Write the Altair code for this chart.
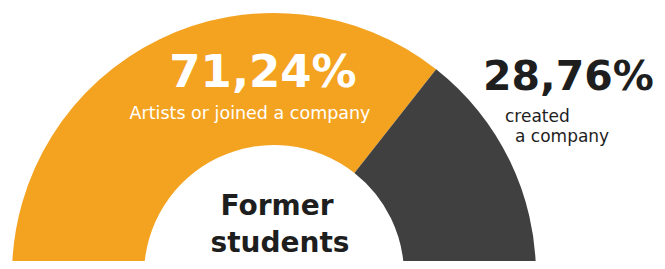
import math
import altair as alt
import pandas as pd

# ---- data ----
categories = ["Artists or joined a company", "created a company"]
values = [71.24, 28.76]
colors = ["#F4A321", "#404040"]
pct_labels = ["71,24%", "28,76%"]
center_lines = ["Former", "students"]
sub_left = ["Artists or joined a company"]
sub_right = ["created", "a company"]

arc_df = pd.DataFrame({"category": categories, "value": values, "order": [0, 1]})

arc = alt.Chart(arc_df).mark_arc(radius=262, innerRadius=130, stroke=None).encode(
    theta=alt.Theta("value:Q", stack=True,
                    scale=alt.Scale(range=[-math.pi / 2, math.pi / 2])),
    color=alt.Color("category:N", scale=alt.Scale(domain=categories, range=colors), legend=None),
    order=alt.Order("order:Q"),
    x=alt.value(266),
    y=alt.value(267),
)

BOLD = "DejaVu Sans"


def txt(text, x, y, size, color, align="center", weight="bold", font=BOLD):
    df = pd.DataFrame({"t": [text]})
    return alt.Chart(df).mark_text(
        align=align, baseline="alphabetic", fontSize=size, fontWeight=weight,
        font=font, color=color,
    ).encode(text="t:N", x=alt.value(x), y=alt.value(y))


layers = [
    arc,
    txt(pct_labels[0], 255, 79, 45, "#FFFFFF"),
    txt(sub_left[0], 242, 111, 17.5, "#FFFFFF", weight="normal"),
    txt(pct_labels[1], 475, 82, 41, "#1E1E1E", align="left"),
    txt(sub_right[0], 497, 114, 17, "#1E1E1E", align="left", weight="normal"),
    txt(sub_right[1], 507, 134, 17, "#1E1E1E", align="left", weight="normal"),
    txt(center_lines[0], 269, 207, 28, "#1E1E1E"),
    txt(center_lines[1], 272, 244, 28, "#1E1E1E"),
]

chart = alt.layer(*layers).properties(
    width=649, height=253,
    autosize=alt.AutoSizeParams(type="none"),
    padding=0,
    background="#FFFFFF",
).configure_view(stroke=None)

chart.save("out.html", embed_options={"renderer": "svg", "actions": False})
